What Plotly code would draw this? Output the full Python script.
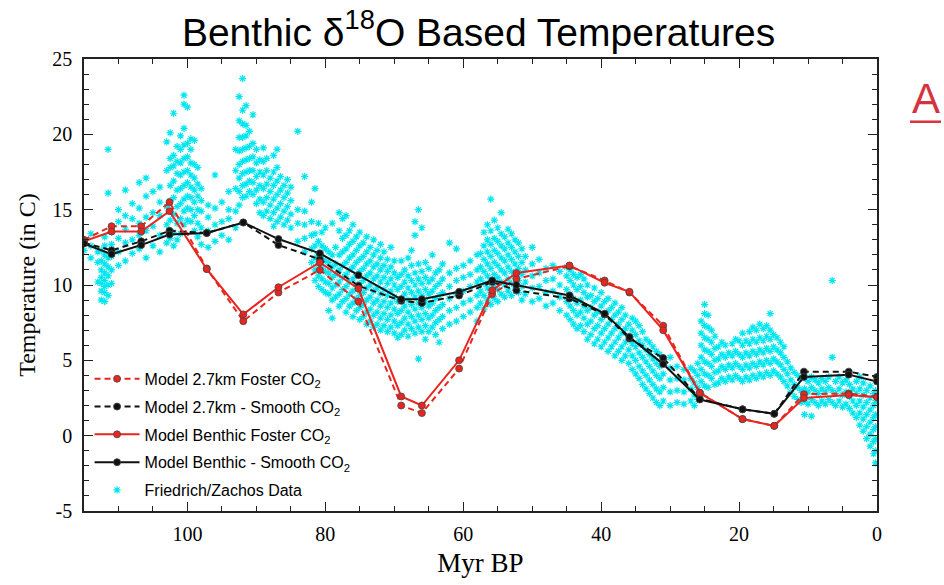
import plotly.graph_objects as go

# ---------------- model series ----------------
model_age = [115, 111, 106.7, 102.6, 97.2, 91.9, 86.8, 80.8, 75.2, 69.0, 66.0, 60.6,
             55.8, 52.3, 44.6, 39.5, 35.9, 31.0, 25.7, 19.5, 14.9, 10.6, 4.1, 0.0]

t_27km_foster = [13.0, 13.9, 13.9, 15.5, 11.1, 7.6, 9.5, 11.0, 8.9, 2.0, 1.5, 4.45,
                 9.4, 10.4, 11.25, 10.3, 9.5, 7.3, 2.85, 1.1, 0.65, 2.75, 2.8, 2.6]
t_27km_smooth = [12.8, 12.3, 12.9, 13.6, 13.45, 14.15, 12.65, 11.7, 9.95, 8.95, 8.8, 9.3,
                 10.2, 9.65, 9.1, 8.05, 6.45, 5.15, 2.45, 1.75, 1.45, 4.25, 4.25, 3.9]
t_benthic_foster = [12.9, 13.55, 13.55, 14.9, 11.05, 8.05, 9.85, 11.5, 9.75, 2.6, 2.0, 5.0,
                    9.65, 10.8, 11.3, 10.15, 9.55, 7.0, 2.85, 1.1, 0.65, 2.5, 2.7, 2.55]
t_benthic_smooth = [12.75, 12.05, 12.65, 13.35, 13.45, 14.15, 13.05, 12.1, 10.65, 9.05, 9.05, 9.55,
                    10.3, 10.0, 9.3, 8.1, 6.55, 4.75, 2.4, 1.75, 1.45, 3.9, 4.05, 3.6]

# ---------------- Friedrich/Zachos data (read column by column) ----------------
fz_age = [115, 114, 113, 112.5, 112, 111.5, 111, 110, 109, 108, 107, 106, 105, 104, 103,
          102.5, 102, 101.5, 101, 100.5, 100, 99.5, 99, 98.5, 98, 97, 96, 95, 94, 93,
          92.5, 92, 91.5, 91, 90.5, 90, 89.5, 89, 88.5, 88, 87.5, 87, 86.5, 86, 85.5, 85,
          84, 83, 82, 81.5, 81, 80.5, 80, 79.5, 79, 78.5, 78, 77.5, 77, 76.5, 76, 75.5, 75,
          74.5, 74, 73.5, 73, 72.5, 72, 71.5, 71, 70.5, 70, 69.5, 69, 68.5, 68, 67.5, 67,
          66.5, 66, 65.5, 65, 64.5, 64, 63.5, 63, 62, 61, 60, 59, 58, 57.5, 57, 56.5, 56,
          55.5, 55, 54.5, 54, 53.5, 53, 52.5, 52, 51.5, 51, 50, 49, 48, 47, 46, 45, 44.5,
          44, 43.5, 43, 42.5, 42, 41.5, 41, 40.5, 40, 39.5, 39, 38.5, 38, 37.5, 37, 36.5,
          36, 35.5, 35, 34.5, 34, 33.5, 33, 32.5, 32, 31.5, 31, 30, 29, 28, 27, 26.5, 26,
          25.5, 25, 24.5, 24, 23.5, 23, 22.5, 22, 21.5, 21, 20.5, 20, 19.5, 19, 18.5, 18,
          17.5, 17, 16.5, 16, 15.5, 15, 14.5, 14, 13.5, 13, 12.5, 12, 11.5, 11, 10.5, 10,
          9.5, 9, 8.5, 8, 7.5, 7, 6.5, 6, 5.5, 5, 4.5, 4, 3.5, 3, 2.5, 2, 1.5, 1, 0.5, 0.2]

fz_temp = [
    [12.3, 12.9], [11.8, 12.6, 13.4], [10.2, 11.5, 12.2],
    [9.0, 9.6, 10.1, 10.5, 11.0, 11.6, 12.3],
    [8.9, 9.5, 9.9, 10.3, 10.8, 11.4, 12.0, 12.6, 13.2],
    [9.3, 10.0, 10.6, 11.2, 11.8, 16.1, 19.0],
    [10.1, 11.0, 11.9, 12.7, 13.5],
    [11.3, 12.2, 13.1, 14.2, 15.0], [11.6, 12.8, 13.7, 14.6, 16.3], [12.1, 13.0, 14.4, 15.4],
    [12.4, 13.3, 14.1, 15.1, 16.8], [11.8, 13.6, 14.5, 15.9, 17.1], [12.6, 13.9, 14.8, 16.2],
    [12.2, 13.3, 14.6, 15.5, 16.5], [12.8, 14.0, 15.2, 17.6, 19.5],
    [13.1, 14.3, 15.6, 16.6, 17.8, 18.4, 20.1],
    [12.6, 13.5, 14.7, 15.8, 16.9, 17.9, 18.6, 21.4],
    [13.0, 14.1, 15.2, 16.3, 17.4, 18.2, 19.2],
    [13.4, 14.4, 15.4, 16.4, 17.3, 18.1, 19.0, 19.9],
    [14.0, 14.9, 15.7, 16.6, 17.5, 18.4, 19.3, 20.4, 22.0, 22.6],
    [14.3, 15.1, 15.9, 16.8, 17.6, 18.5, 19.4, 21.8],
    [14.2, 15.0, 15.8, 16.5, 17.3, 18.1, 19.0, 19.7],
    [13.6, 14.6, 15.5, 16.3, 17.1, 18.0, 19.6],
    [13.2, 14.1, 15.0, 15.9, 16.7, 17.8],
    [12.7, 13.8, 14.9, 15.6, 16.4],
    [12.5, 13.6, 14.5, 15.3], [12.9, 14.0, 15.1, 17.3], [13.3, 14.2, 15.5],
    [13.0, 14.4, 15.0, 16.2], [13.8, 14.9, 16.4, 17.6, 19.0],
    [15.3, 16.2, 17.1, 18.0, 18.9, 19.8, 20.9, 22.5],
    [15.8, 16.6, 17.4, 18.2, 19.0, 19.8, 20.7, 21.6, 23.7],
    [15.9, 16.7, 17.5, 18.3, 19.1, 19.9, 20.6, 21.9],
    [16.2, 16.9, 17.6, 18.4, 19.2, 20.2],
    [16.0, 16.8, 17.6, 18.5, 19.4, 21.3],
    [15.4, 16.3, 17.2, 18.1, 19.0],
    [14.8, 15.7, 16.6, 17.5, 18.3],
    [14.6, 15.5, 16.4, 17.3, 18.2, 19.1],
    [14.9, 15.8, 16.7, 17.6, 18.4],
    [14.4, 15.3, 16.2, 17.1],
    [13.9, 14.8, 15.7, 16.6, 17.5, 18.6],
    [14.2, 15.1, 16.0, 16.9, 17.8, 19.0],
    [14.5, 15.4, 16.3, 17.2], [14.0, 14.9, 15.8, 16.6], [14.3, 15.2, 16.1, 17.0],
    [13.8, 14.7, 15.6, 16.5],
    [12.9, 14.1, 15.0, 20.2], [12.2, 13.1, 14.0, 14.9, 17.2], [11.5, 12.4, 13.3, 14.2, 15.5],
    [10.3, 11.0, 11.8, 12.6, 13.4, 16.4], [9.9, 10.6, 11.4, 12.1, 12.9, 14.1],
    [9.7, 10.4, 11.1, 11.9, 12.6, 13.5], [9.5, 10.2, 10.9, 11.6, 12.4, 13.8],
    [8.3, 9.4, 10.1, 10.8, 11.5, 12.2], [7.8, 9.0, 9.8, 10.5, 11.2, 12.0, 14.1],
    [9.2, 10.0, 10.7, 11.4, 12.5], [8.6, 9.4, 10.2, 11.0, 12.0, 13.6, 14.8],
    [8.9, 9.7, 10.5, 11.3, 12.2, 13.1, 14.4], [8.2, 9.1, 9.9, 10.7, 11.5, 12.4, 13.3, 14.6],
    [8.6, 9.4, 10.2, 11.0, 11.8, 12.7, 13.6], [7.9, 8.8, 9.6, 10.4, 11.2, 12.0, 12.9, 14.0],
    [8.3, 9.1, 9.9, 10.7, 11.5, 12.3, 13.2], [7.7, 8.5, 9.3, 10.1, 10.9, 11.7, 12.6, 13.5],
    [7.9, 8.7, 9.5, 10.3, 11.1, 11.9, 12.8], [7.4, 8.2, 9.0, 9.8, 10.6, 11.4, 12.2, 13.2],
    [7.6, 8.4, 9.2, 10.0, 10.8, 11.6, 12.5], [7.2, 8.0, 8.8, 9.6, 10.4, 11.2, 12.0, 13.0],
    [7.4, 8.2, 9.0, 9.8, 10.6, 11.4, 12.3], [7.0, 7.8, 8.6, 9.4, 10.2, 11.0, 11.8, 12.7],
    [7.3, 8.1, 8.9, 9.7, 10.5, 11.3, 12.2], [6.9, 7.7, 8.5, 9.3, 10.1, 10.9, 11.7],
    [7.2, 8.0, 8.8, 9.6, 10.4, 11.2, 12.5], [6.8, 7.6, 8.4, 9.2, 10.0, 10.8, 11.6],
    [6.5, 7.3, 8.1, 8.9, 9.7, 10.5], [6.7, 7.5, 8.3, 9.1, 9.9, 10.7, 11.6],
    [7.0, 7.8, 8.6, 9.4, 10.2, 11.0], [6.6, 7.4, 8.2, 9.0, 9.8, 10.6, 11.8],
    [7.1, 7.9, 8.7, 9.5, 10.3, 11.3, 12.3], [6.8, 7.6, 8.4, 9.2, 10.0, 10.8, 13.3, 14.2],
    [5.1, 7.2, 8.0, 8.8, 9.6, 10.4, 11.4, 15.0], [6.9, 7.7, 8.5, 9.3, 10.1, 10.9, 13.8],
    [6.4, 7.3, 8.1, 8.9, 9.7, 10.5, 11.5], [6.9, 7.8, 8.6, 9.4, 10.2, 11.1],
    [7.2, 8.0, 8.8, 9.6, 10.4, 12.0], [6.7, 7.5, 8.3, 9.1, 9.9, 10.8],
    [6.2, 7.7, 8.5, 9.3, 10.1, 11.0], [7.1, 7.9, 8.7, 9.5, 10.4, 11.4],
    [7.4, 8.3, 9.1, 9.9, 10.8, 12.8], [7.6, 8.5, 9.4, 10.3, 11.1, 12.4],
    [7.9, 8.8, 9.6, 10.5, 11.3], [8.2, 9.0, 9.9, 10.7, 11.6], [7.6, 8.5, 9.3, 10.2, 11.0, 12.0],
    [8.8, 9.6, 10.4, 11.2, 12.1], [8.4, 9.3, 10.1, 10.9, 11.7, 12.6, 13.5],
    [9.0, 9.8, 10.6, 11.4, 12.2, 13.0, 14.0], [8.7, 9.5, 10.3, 11.1, 11.9, 12.7, 13.6, 15.7],
    [9.1, 9.9, 10.7, 11.5, 12.3, 13.1, 14.3], [8.9, 9.7, 10.5, 11.3, 12.1, 12.9, 13.8],
    [9.4, 10.2, 11.0, 11.8, 12.6, 13.4, 14.8], [9.2, 10.0, 10.8, 11.6, 12.4, 13.2],
    [9.6, 10.4, 11.2, 12.0, 12.8, 13.7], [9.3, 10.1, 10.9, 11.7, 12.5, 13.4],
    [9.8, 10.6, 11.4, 12.2, 13.0], [9.5, 10.3, 11.1, 11.9, 12.8],
    [9.0, 9.9, 10.7, 11.5, 12.4], [9.4, 10.2, 11.0, 11.9], [8.9, 9.8, 10.6, 11.4, 12.5],
    [9.1, 9.9, 10.8, 11.7], [8.6, 9.5, 10.3, 11.1], [8.8, 9.6, 10.4, 11.3],
    [8.3, 9.2, 10.0, 10.9], [8.0, 8.9, 9.7, 10.6, 11.2], [7.7, 8.6, 9.4, 10.3, 11.0],
    [7.4, 8.3, 9.1, 10.0, 10.7], [7.1, 8.0, 8.8, 9.7, 10.5], [7.3, 8.2, 9.0, 9.9, 10.7],
    [6.9, 7.8, 8.6, 9.5, 10.4], [6.4, 7.4, 8.3, 9.2, 10.0], [6.7, 7.6, 8.5, 9.3],
    [6.1, 7.1, 8.0, 8.9, 9.8], [6.4, 7.3, 8.2, 9.1], [5.9, 6.8, 7.7, 8.6, 9.5],
    [6.2, 7.1, 8.0, 8.9], [5.6, 6.5, 7.4, 8.3, 9.1], [5.9, 6.8, 7.7, 8.5],
    [5.3, 6.2, 7.1, 8.0, 8.8], [5.6, 6.5, 7.4, 8.2], [5.0, 5.9, 6.8, 7.7, 8.5],
    [5.3, 6.2, 7.1, 8.0], [4.8, 5.7, 6.6, 7.4], [4.4, 5.3, 6.1, 7.0, 7.8],
    [4.1, 5.0, 5.9, 6.7, 7.6], [3.8, 4.6, 5.5, 6.3, 7.3], [3.4, 4.3, 5.2, 6.0, 6.9],
    [3.1, 4.0, 4.9, 5.7, 6.4], [2.8, 3.7, 4.6, 5.4, 6.2], [2.5, 3.4, 4.3, 5.1, 5.9],
    [2.2, 3.1, 4.0, 4.8, 5.6], [2.0, 2.9, 3.8, 4.6, 5.4], [2.3, 3.2, 4.1, 4.9],
    [2.0, 2.9, 3.7, 4.5, 5.2], [2.2, 3.0, 3.8, 4.6], [2.1, 2.9, 3.7, 4.4],
    [2.3, 3.1, 3.8, 4.5], [2.0, 2.7, 3.5, 4.3], [2.4, 3.2, 4.0, 4.8],
    [2.8, 3.6, 4.4, 5.2, 6.0, 6.8, 7.6], [3.3, 4.1, 4.9, 5.7, 6.5, 7.3, 8.1, 8.7],
    [3.2, 4.0, 4.8, 5.6, 6.4, 7.2, 8.0], [3.8, 4.6, 5.4, 6.2, 7.0],
    [3.4, 4.2, 5.0, 5.8, 6.6], [3.5, 4.3, 5.1, 5.9], [3.8, 4.6, 5.4, 6.2],
    [3.6, 4.4, 5.2, 6.0], [3.9, 4.7, 5.5], [3.7, 4.5, 5.3, 6.1], [4.0, 4.8, 5.6, 6.4],
    [3.8, 4.6, 5.4, 6.3], [3.6, 4.4, 5.2, 6.0, 6.8], [3.9, 4.7, 5.5, 6.3],
    [3.7, 4.5, 5.3, 6.1, 6.9], [4.0, 4.8, 5.6, 6.4, 7.2], [3.8, 4.6, 5.4, 6.2, 7.0],
    [4.1, 4.9, 5.7, 6.5, 7.4], [3.9, 4.7, 5.5, 6.3, 7.1], [4.2, 5.0, 5.8, 6.6, 7.3],
    [4.0, 4.8, 5.6, 6.4, 7.0, 8.1], [4.3, 5.1, 5.9, 6.7], [4.1, 4.9, 5.7, 6.5],
    [3.9, 4.7, 5.5, 6.2], [3.6, 4.4, 5.2, 5.9], [3.3, 4.1, 4.9], [2.9, 3.7, 4.5],
    [2.6, 3.4, 4.2], [2.4, 3.2, 4.0], [2.2, 3.0, 3.8], [1.4, 2.3, 3.1, 3.9],
    [2.1, 2.9, 3.6], [1.3, 2.4, 3.2, 3.9], [2.2, 3.0, 3.7], [2.0, 2.8, 3.5],
    [2.3, 3.1, 3.8], [2.1, 2.9, 3.6], [2.4, 3.2, 3.9], [2.2, 3.0, 5.2, 10.3],
    [2.0, 2.8, 3.6], [2.3, 3.1, 3.9], [1.9, 2.7, 3.5], [2.1, 2.9, 3.7],
    [1.8, 2.6, 3.4], [1.5, 2.3, 3.1], [1.2, 2.0, 2.8, 3.6], [0.7, 1.5, 2.3, 3.1, 3.9],
    [0.3, 1.1, 1.9, 2.7, 3.5], [-0.2, 0.6, 1.4, 2.2, 3.0], [-0.7, 0.1, 0.9, 1.7, 2.5, 3.3],
    [-1.2, -0.4, 0.4, 1.2, 2.0, 2.8], [-1.8, -1.0, -0.2, 0.6, 1.4, 2.2, 3.0],
]

fz_x, fz_y = [], []
for a, temps in zip(fz_age, fz_temp):
    for t in temps:
        fz_x.append(a)
        fz_y.append(t)

x_ticks = [100, 80, 60, 40, 20, 0]
y_ticks = [-5, 0, 5, 10, 15, 20, 25]

RED = "#e8251f"
BLACK = "#111111"
CYAN = "rgb(0,230,240)"

fig = go.Figure()

fig.add_trace(go.Scatter(
    x=fz_x, y=fz_y, mode="markers", name="Friedrich/Zachos Data",
    marker=dict(symbol="asterisk-open", size=6, line=dict(color=CYAN, width=1.2), color=CYAN),
    legendgroup="g5", legendrank=5,
))

series = [
    ("Model 2.7km Foster CO<sub>2</sub>", t_27km_foster, RED, "6px,4px", 1, "g1"),
    ("Model 2.7km - Smooth CO<sub>2</sub>", t_27km_smooth, BLACK, "6px,4px", 2, "g2"),
    ("Model Benthic Foster CO<sub>2</sub>", t_benthic_foster, RED, "solid", 3, "g3"),
    ("Model Benthic - Smooth CO<sub>2</sub>", t_benthic_smooth, BLACK, "solid", 4, "g4"),
]
for name, vals, col, dash, rank, grp in series:
    fig.add_trace(go.Scatter(
        x=model_age, y=vals, mode="lines+markers", name=name,
        line=dict(color=col, width=2, dash=dash),
        marker=dict(symbol="circle", size=7, color=col,
                    line=dict(color="rgba(70,70,70,0.8)", width=1)),
        legendgroup=grp, legendrank=rank,
    ))

axis_common = dict(
    showline=True, linecolor="#222", linewidth=1.5, mirror="allticks",
    ticks="inside", ticklen=9, tickwidth=1, tickcolor="#222",
    showgrid=False, zeroline=False,
    tickfont=dict(family="Liberation Serif", size=20, color="black"),
)

fig.update_xaxes(
    range=[115, 0], tickvals=x_ticks, ticktext=[str(v) for v in x_ticks],
    minor=dict(dtick=5, ticks="inside", ticklen=5, tickcolor="#222", tickwidth=1),
    title=dict(text="Myr BP", font=dict(family="Liberation Serif", size=27, color="black"), standoff=9),
    ticklabelstandoff=4,
    **axis_common,
)
fig.update_yaxes(
    range=[-5, 25], tickvals=y_ticks, ticktext=[str(v) for v in y_ticks],
    minor=dict(dtick=1, ticks="inside", ticklen=5, tickcolor="#222", tickwidth=1),
    title=dict(text="Temperature (in C)", font=dict(family="Liberation Serif", size=24, color="black"), standoff=10),
    ticklabelstandoff=6,
    **axis_common,
)

fig.update_layout(
    width=944, height=585,
    margin=dict(l=84, r=67, t=59, b=72),
    paper_bgcolor="white", plot_bgcolor="white",
    title=dict(text="Benthic δ<sup>18</sup>O Based Temperatures",
               font=dict(family="Liberation Sans", size=39, color="black"),
               x=0.507, xanchor="center", y=0.945, yanchor="middle", yref="container"),
    legend=dict(x=0.007, y=0.33, xanchor="left", yanchor="top",
                bgcolor="rgba(0,0,0,0)", borderwidth=0, itemwidth=45,
                font=dict(family="Liberation Sans", size=16, color="black"),
                traceorder="grouped", tracegroupgap=4),
    showlegend=True,
    annotations=[dict(text="A", xref="paper", yref="paper",
                      x=(926 - 84) / 793, y=(513 - 99) / 454,
                      xanchor="center", yanchor="middle", showarrow=False,
                      font=dict(family="Liberation Sans", size=42, color="#d5333d"))],
    shapes=[dict(type="line", xref="paper", yref="paper",
                 x0=(910 - 84) / 793, x1=(941 - 84) / 793,
                 y0=(513 - 122) / 454, y1=(513 - 122) / 454,
                 line=dict(color="#d5333d", width=2.5))],
)

fig.write_html("out.html")
